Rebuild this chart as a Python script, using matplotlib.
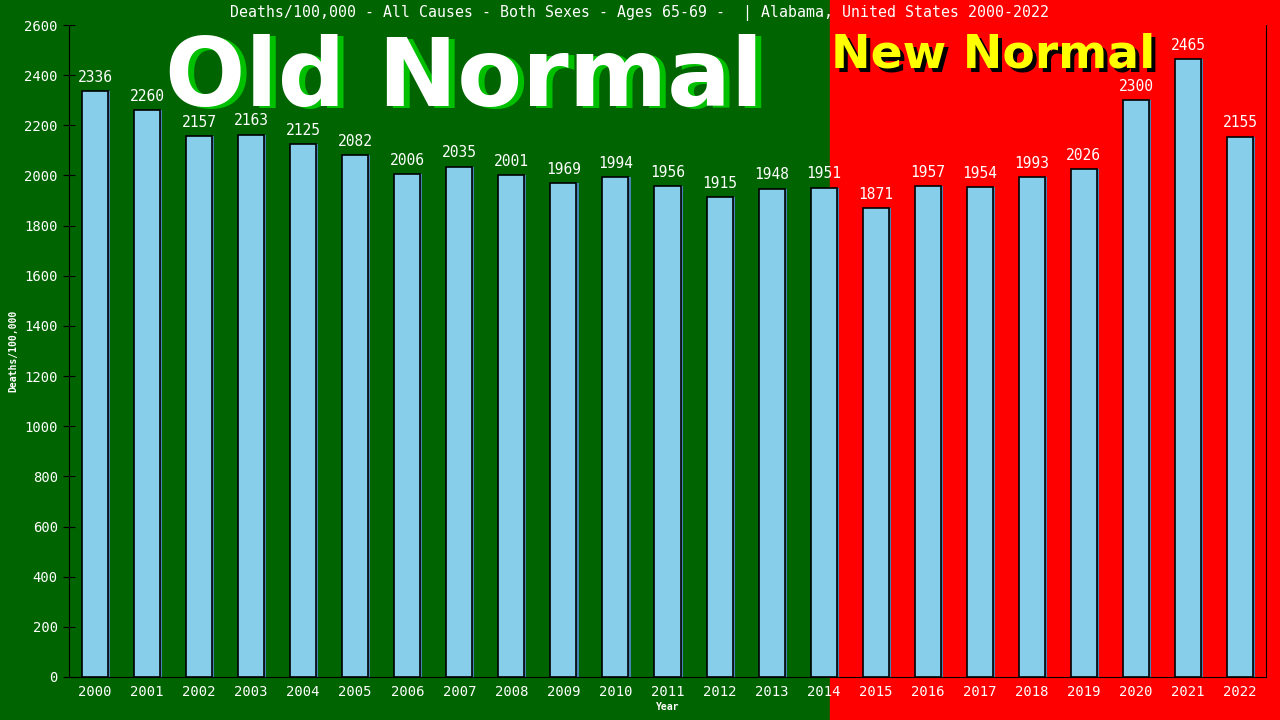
import matplotlib
matplotlib.use("Agg")
import matplotlib.pyplot as plt
from matplotlib.patches import Rectangle
from matplotlib import transforms

# data
years = [str(y) for y in range(2000, 2023)]
deaths = [2336, 2260, 2157, 2163, 2125, 2082, 2006, 2035, 2001, 1969, 1994, 1956,
          1915, 1948, 1951, 1871, 1957, 1954, 1993, 2026, 2300, 2465, 2155]
y_ticks = list(range(0, 2601, 200))

GREEN = "#006400"
RED = "#ff0000"
BAR = "#87ceeb"
MONO = "DejaVu Sans Mono"

fig = plt.figure(figsize=(12.8, 7.2), dpi=100, facecolor=GREEN)
ax = fig.add_axes([69 / 1280, 43 / 720, 1197 / 1280, 652 / 720])
ax.set_facecolor("none")

# red "new normal" band behind the axes
fig.patches.append(Rectangle((830 / 1280, 0), 1 - 830 / 1280, 1,
                             transform=fig.transFigure, color=RED, zorder=-1))

x = list(range(len(years)))
# little blue shadow on right side of each bar
ax.bar([i + 0.04 for i in x], deaths, width=0.5, color="#4682b4", zorder=2)
ax.bar(x, deaths, width=0.5, color=BAR, edgecolor="black", linewidth=1.2, zorder=3)

for i, v in zip(x, deaths):
    ax.text(i, v + 25, str(v), ha="center", va="bottom", color="white",
            fontsize=10.5, family=MONO, zorder=4)

ax.set_xlim(-0.5, len(years) - 0.5)
ax.set_ylim(0, 2600)
ax.set_xticks(x)
ax.set_xticklabels(years)
ax.set_yticks(y_ticks)
ax.tick_params(axis="x", length=0, colors="white", labelsize=10, pad=6)
ax.tick_params(axis="y", direction="inout", length=8, color="black",
               labelcolor="white", labelsize=10, pad=4)
for lab in ax.get_xticklabels() + ax.get_yticklabels():
    lab.set_family(MONO)
for s in ["left", "bottom", "right"]:
    ax.spines[s].set_color("black")
ax.spines["top"].set_visible(False)

ax.set_xlabel("Year", color="white", fontsize=7, family=MONO, fontweight="bold", labelpad=2)
ax.set_ylabel("Deaths/100,000", color="white", fontsize=7, family=MONO,
              fontweight="bold", labelpad=4)

fig.text(0.5, 1 - 13 / 720, "Deaths/100,000 - All Causes - Both Sexes - Ages 65-69 -  | Alabama, United States 2000-2022",
         ha="center", va="center", color="white", fontsize=10.7, family=MONO)

# big overlay texts with drop shadow
sh1 = transforms.offset_copy(fig.transFigure, fig=fig, x=6, y=-2, units="dots")
fig.text(464 / 1280, 1 - 80 / 720, "Old Normal", transform=sh1, ha="center", va="center",
         color="#00c000", fontsize=68, fontweight="bold", family="DejaVu Sans", zorder=5)
fig.text(464 / 1280, 1 - 80 / 720, "Old Normal", ha="center", va="center",
         color="white", fontsize=68, fontweight="bold", family="DejaVu Sans", zorder=6)

sh2 = transforms.offset_copy(fig.transFigure, fig=fig, x=4, y=-4, units="dots")
fig.text(831 / 1280, 1 - 55 / 720, "New Normal", transform=sh2, ha="left", va="center",
         color="black", fontsize=34, fontweight="bold", family="DejaVu Sans", zorder=5)
fig.text(831 / 1280, 1 - 55 / 720, "New Normal", ha="left", va="center",
         color="yellow", fontsize=34, fontweight="bold", family="DejaVu Sans", zorder=6)

fig.savefig("out.png", dpi=100, facecolor=GREEN)
